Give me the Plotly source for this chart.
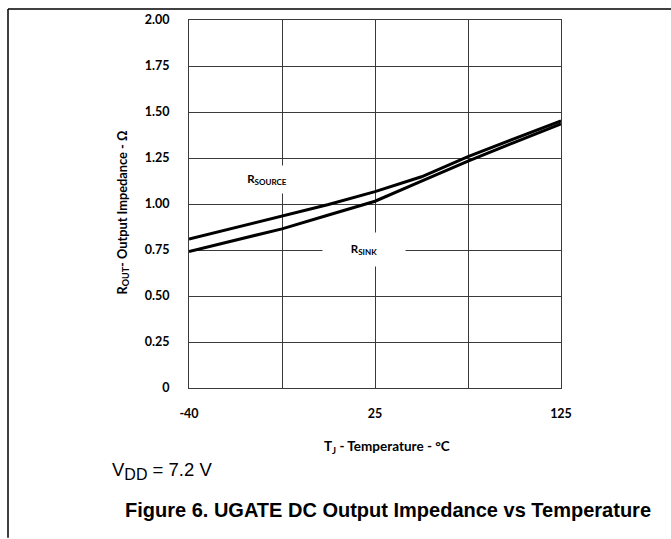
import plotly.graph_objects as go

# x positions along the category-style temperature axis (0 = -40 C, 2 = 25 C, 4 = 125 C)
x_pos = [0, 0.5, 1, 1.5, 2, 2.5, 3, 3.5, 4]
r_source = [0.81, 0.872, 0.933, 0.997, 1.067, 1.148, 1.258, 1.355, 1.452]
r_sink = [0.742, 0.803, 0.865, 0.94, 1.015, 1.124, 1.233, 1.335, 1.436]

x_tickvals = [0, 2, 4]
x_ticktext = ["-40", "25", "125"]
x_minor_grid = [1, 3]
y_tickvals = [0, 0.25, 0.5, 0.75, 1.0, 1.25, 1.5, 1.75, 2.0]
y_ticktext = ["0", "0.25", "0.50", "0.75", "1.00", "1.25", "1.50", "1.75", "2.00"]

W, H = 671, 539
L, R, T, B = 189, 110, 17, 151
pw, ph = W - L - R, H - T - B


def px(xp):
    return (xp - L) / pw


def py(yp):
    return (H - B - yp) / ph


FONT = "Lato"
GRID = "#3a3a3a"

fig = go.Figure()
fig.add_trace(go.Scatter(x=x_pos, y=r_source, mode="lines", name="R_SOURCE",
                         line=dict(color="black", width=3)))
fig.add_trace(go.Scatter(x=x_pos, y=r_sink, mode="lines", name="R_SINK",
                         line=dict(color="black", width=3)))

fig.update_layout(
    width=W, height=H,
    margin=dict(l=L, r=R, t=T, b=B),
    paper_bgcolor="white", plot_bgcolor="white",
    showlegend=False,
    font=dict(family=FONT, color="black"),
)
fig.update_xaxes(
    range=[0, 4], tickmode="array", tickvals=x_tickvals, ticktext=x_ticktext,
    showgrid=True, gridcolor=GRID, gridwidth=1,
    minor=dict(tickmode="array", tickvals=x_minor_grid, showgrid=True,
               gridcolor=GRID, gridwidth=1, ticks=""),
    showline=True, linecolor=GRID, linewidth=1, mirror=True,
    zeroline=False, ticks="", ticklabelstandoff=14,
    tickfont=dict(family=FONT, size=12.5, color="black", weight="bold"),
)
fig.update_yaxes(
    range=[0, 2], tickmode="array", tickvals=y_tickvals, ticktext=y_ticktext,
    showgrid=True, gridcolor=GRID, gridwidth=1,
    showline=True, linecolor=GRID, linewidth=1, mirror=True,
    zeroline=False, ticks="", ticklabelstandoff=16,
    tickfont=dict(family=FONT, size=12.5, color="black", weight="bold"),
)

annos = [
    dict(text="<b>R<sub>SOURCE</sub></b>", x=px(267), y=py(178), width=70, height=27,
         font=dict(family=FONT, size=11.5)),
    dict(text="<b>R<sub>SINK</sub></b>", x=px(364), y=py(248), width=82, height=33,
         font=dict(family=FONT, size=11.5)),
]
for a in annos:
    fig.add_annotation(xref="paper", yref="paper", showarrow=False, bgcolor="white",
                       borderpad=0, xanchor="center", yanchor="middle", **a)

fig.add_annotation(xref="paper", yref="paper", x=px(387), y=py(447), showarrow=False,
                   text="<b>T<sub>J</sub> - Temperature - °C</b>",
                   font=dict(family=FONT, size=13.5), xanchor="center", yanchor="middle")
fig.add_annotation(xref="paper", yref="paper", x=px(123), y=py(211), showarrow=False,
                   text="<b>R<sub>OUT</sub>- Output Impedance - Ω</b>", textangle=-90,
                   font=dict(family=FONT, size=12.8), xanchor="center", yanchor="middle")
fig.add_annotation(xref="paper", yref="paper", x=px(110), y=py(472), showarrow=False,
                   text="V<sub><span style='font-size:16px'>DD</span></sub> = 7.2 V",
                   font=dict(family="Liberation Sans", size=18.5), xanchor="left", yanchor="middle")
fig.add_annotation(xref="paper", yref="paper", x=px(388), y=py(511), showarrow=False,
                   text="<b>Figure 6. UGATE DC Output Impedance vs Temperature</b>",
                   font=dict(family="Liberation Sans", size=20), xanchor="center", yanchor="middle")

# outer frame (top and left edges)
fig.add_shape(type="line", xref="paper", yref="paper", x0=px(8), x1=px(671), y0=py(6), y1=py(6),
              line=dict(color="black", width=1.5))
fig.add_shape(type="line", xref="paper", yref="paper", x0=px(8), x1=px(8), y0=py(6), y1=py(539),
              line=dict(color="black", width=1.5))

fig.write_html("out.html", config={"displayModeBar": False},
               post_script="document.body.style.margin='0';")
